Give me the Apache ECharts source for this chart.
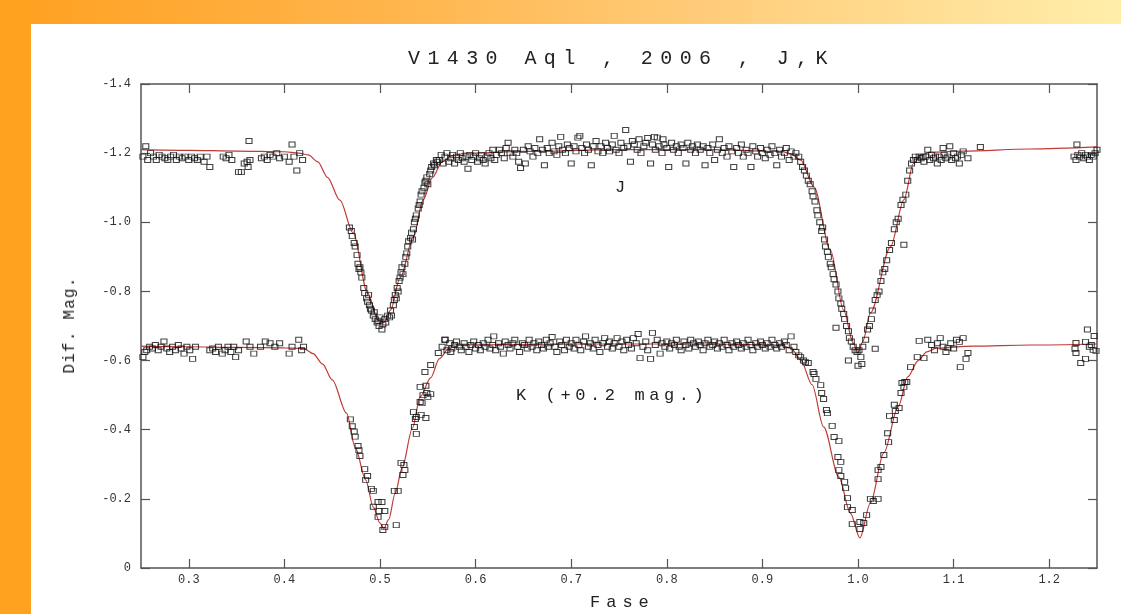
<!DOCTYPE html>
<html>
<head>
<meta charset="utf-8">
<title>V1430 Aql, 2006, J,K</title>
<script src="https://cdn.jsdelivr.net/npm/echarts@6/dist/echarts.min.js"></script>
<style>
  html, body { margin: 0; padding: 0; background: #fff; overflow: hidden; }
  #wrap { position: relative; width: 1121px; height: 614px; }
  #main { position: absolute; left: 0; top: 0; width: 1121px; height: 614px; }
  .t { position: absolute; font-family: 'Liberation Mono', monospace; color: #222;
       white-space: pre; pointer-events: none; }
</style>
</head>
<body>
<div id="wrap">
  <div id="main"></div>
  <div class="t" style="left:408px;top:49px;font-size:20px;line-height:20px;letter-spacing:7.4px">V1430 Aql , 2006 , J,K</div>
  <div class="t" style="left:615px;top:179px;font-size:17px;line-height:17px">J</div>
  <div class="t" style="left:516px;top:387px;font-size:17px;line-height:17px;letter-spacing:4.6px">K (+0.2 mag.)</div>
  <div class="t" style="left:590px;top:594px;font-size:17px;line-height:17px;letter-spacing:6px">Fase</div>
  <div class="t" style="left:70px;top:325px;font-size:16px;line-height:16px;letter-spacing:1.2px;transform:translate(-50%,-50%) rotate(-90deg)">Dif. Mag.</div>
</div>
<script>
  // tick labels
  var xTicks = [0.3, 0.4, 0.5, 0.6, 0.7, 0.8, 0.9, 1.0, 1.1, 1.2]
  var yTicks = [-1.4, -1.2, -1.0, -0.8, -0.6, -0.4, -0.2, 0]

  // J band observations [fase, dif. mag.]
  var jObs = [
    [0.252,-1.19],[0.255,-1.22],[0.257,-1.18],[0.260,-1.20],[0.263,-1.19],[0.266,-1.18],[0.269,-1.195],[0.272,-1.19],
    [0.275,-1.185],[0.278,-1.18],[0.281,-1.19],[0.284,-1.195],[0.287,-1.18],[0.290,-1.19],[0.293,-1.185],[0.296,-1.19],
    [0.300,-1.18],[0.303,-1.19],[0.306,-1.185],[0.309,-1.18],[0.312,-1.19],[0.316,-1.175],[0.319,-1.19],[0.322,-1.16],
    [0.336,-1.19],[0.339,-1.185],[0.342,-1.195],[0.345,-1.18],[0.352,-1.145],[0.355,-1.145],[0.358,-1.17],[0.361,-1.175],
    [0.363,-1.235],[0.364,-1.18],[0.362,-1.16],[0.376,-1.185],[0.379,-1.19],[0.382,-1.18],[0.385,-1.195],[0.388,-1.19],
    [0.392,-1.20],[0.395,-1.185],[0.400,-1.19],[0.405,-1.175],[0.408,-1.225],[0.410,-1.19],[0.413,-1.15],[0.416,-1.20],
    [0.419,-1.18],
    [0.468,-0.985],[0.470,-0.975],[0.471,-0.96],[0.473,-0.94],[0.474,-0.93],[0.476,-0.905],[0.477,-0.88],[0.478,-0.865],
    [0.479,-0.87],[0.480,-0.855],[0.481,-0.84],[0.483,-0.81],[0.484,-0.795],[0.486,-0.78],[0.487,-0.77],[0.488,-0.79],
    [0.489,-0.76],[0.490,-0.75],[0.491,-0.745],[0.493,-0.73],[0.494,-0.74],[0.495,-0.72],[0.497,-0.71],[0.498,-0.715],
    [0.499,-0.70],[0.500,-0.725],[0.502,-0.69],[0.503,-0.705],[0.505,-0.72],[0.506,-0.71],
    [0.508,-0.73],[0.510,-0.725],[0.511,-0.745],[0.512,-0.73],[0.514,-0.76],[0.515,-0.775],[0.516,-0.79],[0.517,-0.78],
    [0.518,-0.81],[0.519,-0.80],[0.520,-0.83],[0.521,-0.84],[0.522,-0.855],[0.523,-0.87],[0.524,-0.85],[0.526,-0.88],
    [0.527,-0.90],[0.528,-0.91],[0.529,-0.93],[0.530,-0.945],[0.532,-0.955],[0.533,-0.97],[0.534,-0.95],[0.535,-0.98],
    [0.536,-1.00],[0.537,-1.01],[0.538,-1.02],[0.540,-1.04],[0.541,-1.05],[0.542,-1.06],[0.543,-1.08],[0.544,-1.09],
    [0.546,-1.10],[0.547,-1.115],[0.548,-1.12],[0.549,-1.13],[0.550,-1.11],[0.552,-1.14],[0.553,-1.15],[0.554,-1.16],
    [0.556,-1.17],[0.557,-1.165],[0.559,-1.18],[0.560,-1.175],
    [0.562,-1.18],[0.564,-1.195],[0.566,-1.17],[0.568,-1.19],[0.570,-1.2],[0.572,-1.175],[0.574,-1.185],[0.576,-1.195],
    [0.578,-1.17],[0.580,-1.19],[0.582,-1.18],[0.584,-1.2],[0.586,-1.185],[0.588,-1.175],[0.590,-1.19],[0.592,-1.155],
    [0.594,-1.195],[0.596,-1.18],[0.598,-1.19],[0.600,-1.2],[0.602,-1.175],[0.604,-1.185],[0.606,-1.195],[0.608,-1.18],
    [0.610,-1.17],[0.612,-1.19],[0.614,-1.2],[0.616,-1.185],[0.618,-1.21],[0.620,-1.18],
    [0.622,-1.195],[0.625,-1.21],[0.627,-1.2],[0.630,-1.185],[0.632,-1.215],[0.634,-1.23],[0.636,-1.2],[0.639,-1.19],
    [0.641,-1.21],[0.643,-1.2],[0.645,-1.175],[0.647,-1.157],[0.650,-1.21],[0.652,-1.17],[0.655,-1.22],[0.657,-1.205],
    [0.660,-1.19],[0.662,-1.215],[0.665,-1.2],[0.667,-1.24],[0.670,-1.21],[0.672,-1.165],[0.675,-1.215],[0.677,-1.2],
    [0.680,-1.23],[0.682,-1.205],[0.685,-1.195],[0.687,-1.22],[0.689,-1.247],[0.691,-1.21],[0.694,-1.2],[0.696,-1.225],
    [0.698,-1.215],[0.700,-1.17],[0.703,-1.22],[0.705,-1.205],[0.707,-1.245],[0.709,-1.25],[0.711,-1.215],[0.714,-1.2],
    [0.716,-1.225],[0.718,-1.21],[0.721,-1.165],[0.723,-1.22],[0.726,-1.235],[0.728,-1.205],
    [0.731,-1.22],[0.733,-1.2],[0.736,-1.23],[0.738,-1.215],[0.740,-1.205],[0.743,-1.225],[0.745,-1.25],[0.747,-1.21],
    [0.750,-1.2],[0.752,-1.23],[0.755,-1.215],[0.757,-1.267],[0.759,-1.22],[0.762,-1.175],[0.764,-1.235],[0.766,-1.225],
    [0.769,-1.21],[0.771,-1.24],[0.773,-1.2],[0.776,-1.22],[0.778,-1.23],[0.780,-1.244],[0.783,-1.17],[0.785,-1.225],
    [0.787,-1.247],[0.788,-1.21],[0.790,-1.245],[0.792,-1.22],[0.795,-1.2],[0.796,-1.24],[0.797,-1.225],[0.800,-1.215],
    [0.802,-1.16],[0.805,-1.23],[0.807,-1.21],[0.810,-1.22],[0.812,-1.2],[0.815,-1.225],[0.817,-1.215],[0.820,-1.17],
    [0.822,-1.23],[0.825,-1.21],[0.827,-1.22],[0.830,-1.2],[0.832,-1.225],[0.835,-1.21],
    [0.838,-1.22],[0.840,-1.165],[0.843,-1.215],[0.845,-1.2],[0.848,-1.225],[0.850,-1.18],[0.853,-1.21],[0.855,-1.24],
    [0.858,-1.2],[0.860,-1.215],[0.863,-1.19],[0.865,-1.22],[0.868,-1.205],[0.870,-1.16],[0.873,-1.215],[0.875,-1.2],
    [0.878,-1.225],[0.880,-1.19],[0.883,-1.21],[0.885,-1.2],[0.888,-1.16],[0.890,-1.22],[0.893,-1.205],[0.895,-1.19],
    [0.898,-1.215],[0.900,-1.2],[0.903,-1.185],[0.905,-1.21],[0.908,-1.195],[0.910,-1.22],[0.913,-1.2],[0.915,-1.165],
    [0.918,-1.21],[0.920,-1.19],[0.923,-1.2],[0.925,-1.215],[0.928,-1.18],[0.930,-1.205],[0.933,-1.19],[0.935,-1.2],
    [0.938,-1.19],[0.940,-1.175],[0.942,-1.16],[0.944,-1.15],[0.946,-1.135],[0.948,-1.12],[0.950,-1.11],[0.952,-1.09],
    [0.953,-1.075],[0.955,-1.06],[0.957,-1.035],[0.958,-1.02],[0.960,-1.00],[0.962,-0.975],[0.963,-0.985],[0.965,-0.95],
    [0.966,-0.93],[0.968,-0.915],[0.969,-0.90],[0.971,-0.88],[0.972,-0.87],[0.974,-0.85],[0.975,-0.835],[0.977,-0.82],
    [0.977,-0.695],[0.979,-0.80],[0.980,-0.78],[0.982,-0.765],[0.983,-0.75],[0.985,-0.735],[0.986,-0.72],[0.988,-0.70],
    [0.990,-0.685],[0.991,-0.665],[0.990,-0.60],[0.993,-0.655],[0.995,-0.64],[0.997,-0.63],[0.999,-0.625],[1.000,-0.585],
    [1.001,-0.63],[1.003,-0.61],[1.004,-0.59],[1.005,-0.64],[1.008,-0.66],[1.010,-0.69],[1.012,-0.70],[1.014,-0.72],
    [1.015,-0.745],[1.018,-0.775],[1.018,-0.634],[1.020,-0.79],[1.022,-0.80],[1.024,-0.83],[1.026,-0.855],[1.028,-0.865],
    [1.030,-0.89],[1.033,-0.92],[1.035,-0.94],[1.038,-0.98],[1.040,-1.00],[1.042,-1.01],[1.045,-1.05],[1.047,-1.065],
    [1.048,-0.935],[1.050,-1.08],[1.052,-1.12],[1.054,-1.15],[1.056,-1.17],[1.058,-1.18],
    [1.060,-1.19],[1.062,-1.18],[1.064,-1.19],[1.066,-1.185],[1.068,-1.19],[1.069,-1.175],[1.071,-1.19],[1.073,-1.21],
    [1.075,-1.18],[1.077,-1.195],[1.079,-1.185],[1.081,-1.19],[1.083,-1.17],[1.085,-1.19],[1.087,-1.18],[1.089,-1.215],
    [1.090,-1.195],[1.092,-1.185],[1.094,-1.19],[1.096,-1.22],[1.098,-1.18],[1.100,-1.2],[1.102,-1.185],[1.104,-1.19],
    [1.106,-1.17],[1.108,-1.195],[1.110,-1.205],[1.115,-1.185],[1.128,-1.218],
    [1.229,-1.225],[1.226,-1.19],[1.228,-1.18],[1.230,-1.195],[1.232,-1.19],[1.234,-1.2],[1.236,-1.185],[1.238,-1.195],
    [1.240,-1.19],[1.242,-1.18],[1.244,-1.195],[1.246,-1.19],[1.248,-1.2],[1.250,-1.21]
  ]

  // K band observations (+0.2 mag.)
  var kObs = [
    [0.252,-0.61],[0.254,-0.625],[0.256,-0.63],[0.259,-0.64],[0.262,-0.635],[0.265,-0.645],[0.268,-0.63],[0.271,-0.64],
    [0.274,-0.655],[0.277,-0.635],[0.280,-0.625],[0.283,-0.64],[0.286,-0.63],[0.289,-0.645],[0.292,-0.635],[0.295,-0.62],
    [0.298,-0.64],[0.301,-0.63],[0.304,-0.605],[0.307,-0.64],[0.322,-0.63],[0.325,-0.635],[0.328,-0.625],[0.331,-0.64],
    [0.335,-0.62],[0.338,-0.63],[0.341,-0.64],[0.344,-0.625],[0.347,-0.64],[0.349,-0.61],[0.352,-0.63],[0.360,-0.655],
    [0.364,-0.64],[0.368,-0.62],[0.375,-0.64],[0.380,-0.655],[0.385,-0.65],[0.390,-0.64],[0.395,-0.65],[0.405,-0.62],
    [0.408,-0.64],[0.415,-0.66],[0.418,-0.63],[0.420,-0.64],
    [0.469,-0.43],[0.471,-0.41],[0.473,-0.395],[0.474,-0.38],[0.477,-0.353],[0.478,-0.341],[0.479,-0.324],[0.484,-0.286],
    [0.487,-0.266],[0.485,-0.255],[0.491,-0.229],[0.493,-0.223],[0.493,-0.177],[0.498,-0.191],[0.502,-0.191],[0.499,-0.165],
    [0.505,-0.165],[0.498,-0.148],[0.505,-0.119],[0.503,-0.110],[0.517,-0.124],[0.515,-0.223],[0.519,-0.223],[0.522,-0.304],
    [0.525,-0.298],[0.526,-0.283],[0.524,-0.269],[0.538,-0.388],[0.536,-0.408],[0.537,-0.431],[0.538,-0.437],[0.535,-0.451],
    [0.543,-0.443],[0.548,-0.434],[0.544,-0.477],[0.542,-0.480],[0.545,-0.500],[0.549,-0.506],[0.550,-0.495],[0.542,-0.524],
    [0.548,-0.527],[0.553,-0.503],[0.547,-0.567],[0.553,-0.587],[0.561,-0.622],[0.568,-0.66],[0.574,-0.625],
    [0.565,-0.64],[0.568,-0.66],[0.570,-0.63],[0.573,-0.65],[0.575,-0.635],[0.578,-0.645],[0.580,-0.655],[0.583,-0.64],
    [0.585,-0.63],[0.588,-0.65],[0.590,-0.64],[0.593,-0.625],[0.595,-0.645],[0.598,-0.655],[0.600,-0.635],[0.603,-0.645],
    [0.605,-0.63],[0.608,-0.65],[0.610,-0.64],[0.613,-0.66],[0.615,-0.635],[0.618,-0.645],[0.619,-0.67],[0.621,-0.63],
    [0.624,-0.65],[0.626,-0.64],[0.629,-0.62],[0.631,-0.655],[0.634,-0.645],[0.636,-0.635],[0.639,-0.65],[0.641,-0.66],
    [0.644,-0.64],[0.646,-0.625],[0.649,-0.65],[0.651,-0.645],[0.654,-0.635],[0.656,-0.66],[0.659,-0.64],[0.661,-0.65],
    [0.664,-0.63],[0.666,-0.655],[0.669,-0.645],[0.671,-0.635],[0.674,-0.66],[0.676,-0.64],[0.678,-0.65],[0.680,-0.668],
    [0.683,-0.64],[0.685,-0.625],[0.688,-0.655],[0.690,-0.645],[0.693,-0.63],[0.695,-0.66],[0.698,-0.64],[0.700,-0.65],
    [0.703,-0.635],[0.705,-0.66],[0.708,-0.645],[0.710,-0.63],[0.713,-0.655],[0.715,-0.67],[0.718,-0.64],[0.720,-0.65],
    [0.723,-0.635],[0.725,-0.66],[0.728,-0.645],[0.730,-0.625],[0.733,-0.65],[0.735,-0.665],[0.738,-0.64],[0.740,-0.655],
    [0.743,-0.635],[0.745,-0.65],[0.748,-0.665],[0.750,-0.64],[0.753,-0.655],[0.755,-0.63],[0.758,-0.66],[0.760,-0.645],
    [0.763,-0.635],[0.765,-0.665],[0.768,-0.65],[0.770,-0.677],[0.772,-0.607],[0.775,-0.64],[0.778,-0.655],[0.780,-0.63],
    [0.783,-0.605],[0.785,-0.68],[0.788,-0.645],[0.790,-0.66],[0.793,-0.62],[0.795,-0.65],[0.798,-0.64],[0.800,-0.655],
    [0.803,-0.635],[0.805,-0.65],[0.808,-0.645],[0.810,-0.66],[0.813,-0.64],[0.815,-0.63],[0.818,-0.655],[0.820,-0.645],
    [0.823,-0.635],[0.825,-0.66],[0.828,-0.65],[0.830,-0.64],[0.833,-0.655],[0.835,-0.645],[0.838,-0.63],[0.840,-0.65],
    [0.843,-0.66],[0.845,-0.64],[0.848,-0.645],[0.850,-0.655],[0.853,-0.635],[0.855,-0.65],[0.858,-0.64],[0.860,-0.66],
    [0.863,-0.645],[0.865,-0.63],[0.868,-0.65],[0.870,-0.64],[0.873,-0.655],[0.875,-0.645],[0.878,-0.635],[0.880,-0.65],
    [0.883,-0.64],[0.885,-0.66],[0.888,-0.645],[0.890,-0.63],[0.893,-0.65],[0.895,-0.64],[0.898,-0.655],[0.900,-0.645],
    [0.903,-0.635],[0.905,-0.65],[0.908,-0.64],[0.910,-0.66],[0.913,-0.645],[0.915,-0.635],[0.918,-0.65],[0.920,-0.64],
    [0.923,-0.655],[0.925,-0.645],[0.928,-0.63],[0.930,-0.67],[0.933,-0.64],[0.935,-0.625],[0.938,-0.615],
    [0.940,-0.61],[0.943,-0.60],[0.945,-0.595],[0.948,-0.593],[0.953,-0.567],[0.954,-0.561],[0.956,-0.547],[0.961,-0.529],
    [0.962,-0.506],[0.964,-0.489],[0.967,-0.457],[0.968,-0.448],[0.973,-0.411],[0.975,-0.379],[0.980,-0.367],[0.979,-0.321],
    [0.982,-0.307],[0.980,-0.283],[0.982,-0.266],[0.986,-0.249],[0.987,-0.231],[0.989,-0.202],[0.989,-0.176],[0.994,-0.168],
    [0.994,-0.127],[1.002,-0.133],[1.006,-0.130],[1.002,-0.113],[1.009,-0.153],[1.013,-0.200],[1.016,-0.194],[1.021,-0.200],
    [1.021,-0.257],[1.021,-0.283],[1.024,-0.292],[1.027,-0.327],[1.032,-0.364],[1.031,-0.390],[1.038,-0.428],[1.033,-0.440],
    [1.039,-0.454],[1.043,-0.463],[1.038,-0.472],[1.045,-0.506],[1.046,-0.535],[1.048,-0.524],[1.051,-0.538],[1.049,-0.538],
    [1.055,-0.581],[1.062,-0.61],[1.064,-0.657],[1.069,-0.607],[1.073,-0.66],[1.077,-0.645],[1.080,-0.63],[1.083,-0.65],
    [1.086,-0.665],[1.089,-0.64],[1.092,-0.625],[1.094,-0.636],[1.097,-0.65],[1.100,-0.635],[1.103,-0.66],[1.106,-0.654],
    [1.107,-0.581],[1.110,-0.665],[1.113,-0.605],[1.115,-0.622],
    [1.228,-0.651],[1.227,-0.634],[1.228,-0.622],[1.233,-0.593],[1.238,-0.654],[1.238,-0.605],[1.240,-0.69],[1.242,-0.64],
    [1.244,-0.645],[1.246,-0.631],[1.247,-0.671],[1.249,-0.628]
  ]

  // model light curves
  var jModel = [
    [0.25,-1.210],[0.30,-1.208],[0.35,-1.206],[0.40,-1.204],[0.415,-1.200],[0.425,-1.195],[0.435,-1.175],[0.445,-1.13],
    [0.458,-1.064],[0.472,-0.969],[0.487,-0.795],[0.498,-0.717],[0.504,-0.71],[0.511,-0.746],[0.521,-0.839],[0.535,-0.957],
    [0.545,-1.064],[0.555,-1.13],[0.565,-1.175],[0.575,-1.192],[0.59,-1.200],[0.65,-1.205],[0.75,-1.210],[0.85,-1.210],
    [0.92,-1.205],[0.93,-1.198],[0.94,-1.180],[0.954,-1.102],[0.971,-0.920],[0.985,-0.746],[0.995,-0.650],[1.0,-0.622],
    [1.005,-0.655],[1.013,-0.738],[1.034,-0.929],[1.048,-1.065],[1.058,-1.17],[1.066,-1.195],[1.076,-1.203],[1.11,-1.206],
    [1.18,-1.212],[1.25,-1.218]
  ]
  var kModel = [
    [0.25,-0.642],[0.30,-0.640],[0.35,-0.638],[0.40,-0.637],[0.42,-0.635],[0.43,-0.62],[0.44,-0.59],[0.450,-0.544],
    [0.465,-0.448],[0.474,-0.35],[0.485,-0.255],[0.493,-0.176],[0.500,-0.13],[0.504,-0.114],[0.509,-0.14],[0.516,-0.217],
    [0.523,-0.289],[0.534,-0.405],[0.542,-0.495],[0.553,-0.55],[0.562,-0.605],[0.572,-0.635],[0.585,-0.645],[0.70,-0.648],
    [0.85,-0.648],[0.92,-0.645],[0.93,-0.635],[0.94,-0.602],[0.952,-0.53],[0.964,-0.408],[0.980,-0.263],[0.992,-0.159],
    [1.002,-0.087],[1.013,-0.188],[1.027,-0.333],[1.042,-0.466],[1.052,-0.553],[1.063,-0.60],[1.072,-0.625],[1.082,-0.636],
    [1.12,-0.642],[1.18,-0.645],[1.25,-0.648]
  ]

  var mono = 'Liberation Mono'
  var frame = '#555'
  var chart = echarts.init(document.getElementById('main'))

  function frameAxis (pos, show) {
    return {
      type: 'value',
      position: pos,
      axisLine: { show: true, onZero: false, lineStyle: { color: frame, width: 1.5 } },
      splitLine: { show: false },
      axisLabel: { show: show }
    }
  }

  var xBottom = frameAxis('bottom', true)
  var xTop = frameAxis('top', false)
  ;[xBottom, xTop].forEach(function (a) {
    a.min = 0.25
    a.max = 1.25
    a.axisTick = { show: true, inside: true, length: 9, customValues: xTicks, lineStyle: { color: frame, width: 1.2 } }
  })
  xBottom.axisLabel = {
    customValues: xTicks, margin: 6, color: '#333', fontFamily: mono, fontSize: 12,
    formatter: function (v) { return v.toFixed(1) }
  }

  var yLeft = frameAxis('left', true)
  var yRight = frameAxis('right', false)
  ;[yLeft, yRight].forEach(function (a) {
    a.min = -1.4
    a.max = 0
    a.interval = 0.2
    a.inverse = true
    a.axisTick = { show: true, inside: true, length: 9, customValues: yTicks, lineStyle: { color: frame, width: 1.2 } }
  })
  yLeft.axisLabel = {
    customValues: yTicks, margin: 10, color: '#333', fontFamily: mono, fontSize: 12,
    formatter: function (v) { return v === 0 ? '0' : v.toFixed(1) }
  }

  function model (data) {
    return {
      type: 'line', data: data, showSymbol: false, smooth: 0.3, smoothMonotone: 'x',
      lineStyle: { color: '#c03a36', width: 1.2 }, z: 1, silent: true
    }
  }
  function obs (data) {
    return {
      type: 'scatter', data: data, symbol: 'rect', symbolSize: [6, 5],
      itemStyle: { color: 'rgba(255,255,255,0)', borderColor: '#111', borderWidth: 1 },
      z: 2, silent: true
    }
  }

  chart.setOption({
    animation: false,
    backgroundColor: '#fff',
    graphic: [{
      type: 'rect', z: -10, shape: { x: 0, y: 0, width: 1121, height: 24 },
      style: {
        fill: new echarts.graphic.LinearGradient(0, 0, 1, 0, [
          { offset: 0, color: '#ffa020' },
          { offset: 0.35, color: '#ffb54c' },
          { offset: 0.62, color: '#ffcb78' },
          { offset: 1, color: '#ffeeaa' }
        ])
      }
    }, {
      type: 'rect', z: -10, shape: { x: 0, y: 0, width: 31, height: 614 },
      style: { fill: '#ffa21f' }
    }],
    grid: { left: 141, right: 24, top: 84, bottom: 46 },
    xAxis: [xBottom, xTop],
    yAxis: [yLeft, yRight],
    series: [model(jModel), model(kModel), obs(jObs), obs(kObs)]
  })
</script>
</body>
</html>
